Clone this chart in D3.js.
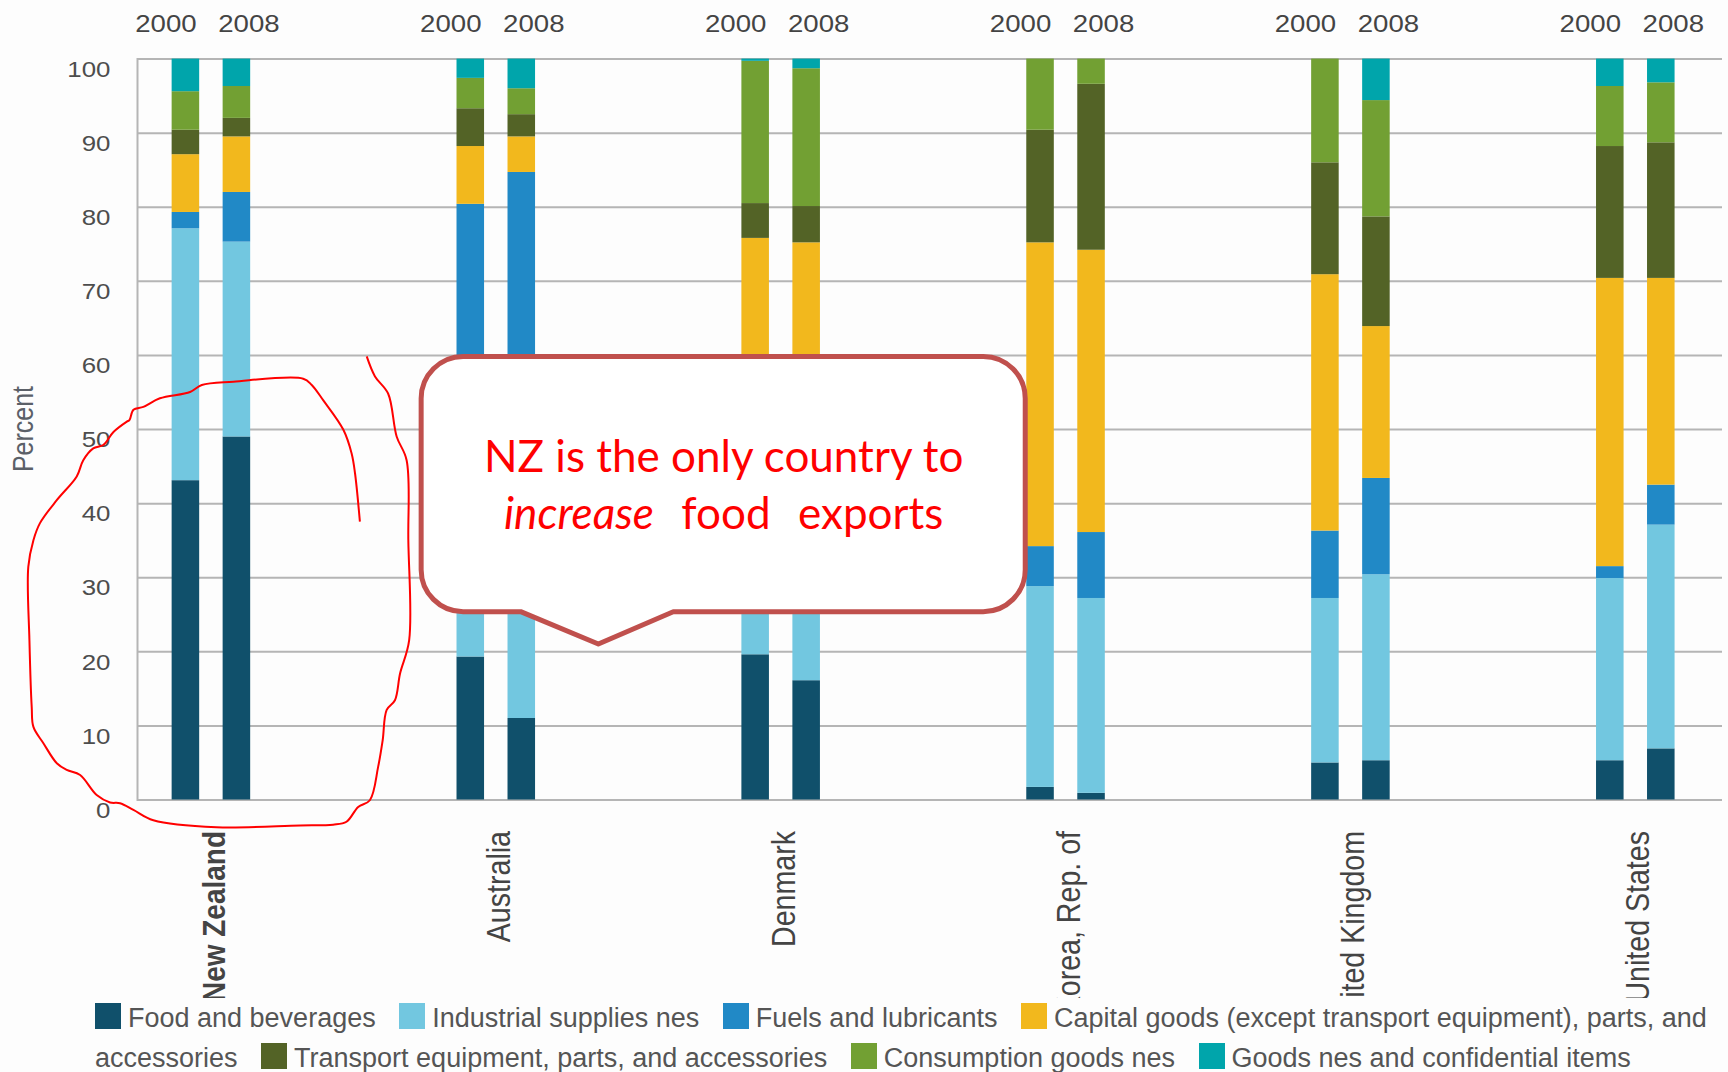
<!DOCTYPE html>
<html>
<head>
<meta charset="utf-8">
<script src="https://cdn.jsdelivr.net/npm/d3@7"></script>
<style>
    body { margin: 0; background: #fdfdfd; width: 1728px; height: 1072px; overflow: hidden; position: relative;
           font-family: "Liberation Sans", Arial, sans-serif; }
    #chart { position: absolute; left: 0; top: 0; }
    #legend { position: absolute; left: 95px; top: 998px; width: 1632px; font-size: 27px; line-height: 40px;
              color: #555; background: #fdfdfd; }
    .sw { display: inline-block; width: 26px; height: 26px; vertical-align: -1.6px; margin-right: 7px; }
    .item + .item .sw { margin-left: 16px; }
</style>
</head>
<body>
<svg id="chart" width="1728" height="1072"></svg>
<div id="legend"></div>
<script>
const countries = ['New Zealand', 'Australia', 'Denmark', 'Korea, Rep. of', 'United Kingdom', 'United States'];
const years = ['2000', '2008'];
const yTicks = [0, 10, 20, 30, 40, 50, 60, 70, 80, 90, 100];

const seriesNames = [
    'Food and beverages',
    'Industrial supplies nes',
    'Fuels and lubricants',
    'Capital goods (except transport equipment), parts, and accessories',
    'Transport equipment, parts, and accessories',
    'Consumption goods nes',
    'Goods nes and confidential items'
];
const seriesColors = ['#10506b', '#72c7e0', '#2189c6', '#f2b81d', '#536326', '#72a033', '#00a5ab'];

// one value per bar: NZ 2000, NZ 2008, AU 2000, AU 2008, DK.., KR.., UK.., US..
const food        = [43.1, 49.0, 19.3, 11.0, 19.6, 16.1,  1.7,  0.9,  5.0,  5.3,  5.3,  6.9];
const industrial  = [34.0, 26.3, 30.7, 34.0, 20.4, 21.9, 27.1, 26.3, 22.2, 25.1, 24.6, 30.2];
const fuels       = [ 2.2,  6.7, 30.4, 39.7,  8.0, 12.0,  5.4,  8.9,  9.1, 13.0,  1.6,  5.4];
const capital     = [ 7.8,  7.5,  7.8,  4.8, 27.8, 25.2, 41.0, 38.1, 34.6, 20.5, 38.9, 27.9];
const transport   = [ 3.3,  2.5,  5.1,  3.0,  4.7,  4.9, 15.2, 22.4, 15.1, 14.8, 17.8, 18.3];
const consumption = [ 5.2,  4.3,  4.1,  3.5, 19.2, 18.6,  9.6,  3.4, 14.0, 15.7,  8.1,  8.1];
const goodsNes    = [ 4.4,  3.7,  2.6,  4.0,  0.3,  1.3,  0.0,  0.0,  0.0,  5.6,  3.7,  3.2];

// hand-drawn loop round New Zealand: [offset from NZ in category steps, percent]
const scribble = [
    [0.547, 59.8], [0.576, 57.1], [0.622, 54.8], [0.652, 49.0], [0.687, 45.8], [0.693, 35.0],
    [0.696, 21.5], [0.664, 17.0], [0.646, 13.4], [0.617, 12.1], [0.603, 8.0], [0.587, 4.4],
    [0.558, -0.1], [0.517, -1.0], [0.476, -3.0], [0.429, -3.4], [0.313, -3.5], [0.020, -3.75],
    [-0.202, -2.8], [-0.272, -1.4], [-0.319, -0.5], [-0.354, -0.4], [-0.401, 0.6], [-0.459, 3.3],
    [-0.506, 4.0], [-0.541, 4.9], [-0.588, 7.6], [-0.623, 9.8], [-0.629, 12.5], [-0.637, 21.5],
    [-0.641, 31.4], [-0.623, 35.0], [-0.600, 37.3], [-0.541, 40.4], [-0.471, 43.6], [-0.448, 45.8],
    [-0.413, 47.4], [-0.378, 47.85], [-0.342, 49.6], [-0.295, 51.0], [-0.286, 51.2], [-0.272, 52.6],
    [-0.237, 53.0], [-0.179, 54.15], [-0.073, 55.0], [-0.032, 55.95], [0.079, 56.4], [0.324, 56.8],
    [0.354, 55.95], [0.394, 53.9], [0.465, 49.9], [0.494, 46.7], [0.506, 44.0], [0.523, 37.5]
];

const seriesValues = [food, industrial, fuels, capital, transport, consumption, goodsNes];
const rows = [];
countries.forEach((c, ci) => years.forEach((yr, yi) => {
    const row = { country: c, year: yr };
    seriesNames.forEach((s, si) => { row[s] = seriesValues[si][ci * 2 + yi]; });
    rows.push(row);
}));

const plotLeft = 137, plotRight = 1722;
const svg = d3.select('#chart');

const x = d3.scalePoint().domain(countries).range([210.9, 1635.3]);
const step = x.step();
const xYear = d3.scaleBand().domain(years).range([-51, 51]).paddingInner(0.46).paddingOuter(0.23);
const xLabel = d3.scaleBand().domain(years).range([-86.5, 79.5]);
const y = d3.scaleLinear().domain([0, 100]).range([799.5, 58.6]);
const color = d3.scaleOrdinal().domain(seriesNames).range(seriesColors);
const ax = (country, frac) => x(country) + frac * step;

// grid + y axis
const yAxis = svg.append('g')
    .attr('transform', `translate(${plotLeft},0)`)
    .call(d3.axisLeft(y).tickValues(yTicks).tickSize(-(plotRight - plotLeft)).tickPadding(0));
yAxis.select('.domain').attr('stroke', '#b5b5b5').attr('stroke-width', 2);
yAxis.selectAll('.tick line').attr('stroke', '#b5b5b5').attr('stroke-width', 2);
yAxis.selectAll('.tick text')
    .attr('x', 0).attr('dy', null)
    .attr('transform', 'translate(-26.5,17.7) scale(1.15,1)')
    .style('font-family', '"Liberation Sans", Arial, sans-serif')
    .style('font-size', '22.5px')
    .attr('fill', '#4d4d4d');

svg.append('text')
    .attr('transform', 'translate(33,429) scale(1.15,1) rotate(-90)')
    .attr('text-anchor', 'middle')
    .style('font-size', '25px')
    .attr('fill', '#5b6068')
    .text('Percent');

// stacked bars
const stacked = d3.stack().keys(seriesNames)(rows);
svg.append('g').selectAll('g')
    .data(stacked)
    .enter()
    .append('g')
    .attr('fill', d => color(d.key))
    .selectAll('rect')
    .data(d => d)
    .enter()
    .append('rect')
    .attr('x', d => x(d.data.country) + xYear(d.data.year))
    .attr('y', d => y(d[1]))
    .attr('width', xYear.bandwidth())
    .attr('height', d => y(d[0]) - y(d[1]));

// year labels on top
const yearLabels = rows.map(r => ({ country: r.country, year: r.year }));
svg.append('g').selectAll('text')
    .data(yearLabels)
    .enter()
    .append('text')
    .attr('transform', d => `translate(${x(d.country) + xLabel(d.year) + xLabel.bandwidth() / 2},32) scale(1.15,1)`)
    .attr('text-anchor', 'middle')
    .style('font-size', '24px')
    .attr('fill', '#444')
    .text(d => d.year);

// country labels, rotated and cut off by the legend band
svg.append('clipPath').attr('id', 'labelClip')
    .append('rect').attr('x', 0).attr('y', 805).attr('width', 1728).attr('height', 196);
svg.append('g')
    .attr('clip-path', 'url(#labelClip)')
    .selectAll('text')
    .data(countries)
    .enter()
    .append('text')
    .attr('transform', d => `translate(${x(d) + 14},831) scale(1.15,1) rotate(-90)`)
    .attr('text-anchor', 'end')
    .style('font-size', d => d === 'New Zealand' ? '28px' : '28.6px')
    .style('font-weight', d => d === 'New Zealand' ? 'bold' : 'normal')
    .attr('fill', '#444')
    .text(d => d);

// callout
const L = ax('Australia', -0.262), R = ax('Korea, Rep. of', -0.1415);
const T = y(59.8), B = y(25.35), r = 42;
const p = d3.path();
p.moveTo(L + r, T);
p.lineTo(R - r, T);
p.arcTo(R, T, R, T + r, r);
p.lineTo(R, B - r);
p.arcTo(R, B, R - r, B, r);
p.lineTo(ax('Australia', 0.623), B);
p.lineTo(ax('Australia', 0.36), y(20.99));
p.lineTo(ax('Australia', 0.0874), B);
p.lineTo(L + r, B);
p.arcTo(L, B, L, B - r, r);
p.lineTo(L, T + r);
p.arcTo(L, T, L + r, T, r);
p.closePath();
svg.append('path')
    .attr('d', p.toString())
    .attr('fill', '#ffffff')
    .attr('stroke', '#c0504d')
    .attr('stroke-width', 5)
    .attr('stroke-linejoin', 'round');

const noteX = ax('Australia', 0.80);
const note = svg.append('g')
    .style('font-family', 'Lato, "Open Sans", sans-serif')
    .style('font-size', '44px')
    .attr('fill', '#ff0000')
    .attr('text-anchor', 'middle');
note.append('text')
    .attr('x', noteX).attr('y', y(44.24))
    .text('NZ is the only country to');
const line2 = note.append('text')
    .attr('x', noteX).attr('y', y(36.47))
    .style('white-space', 'pre')
    .style('word-spacing', '2.5px');
line2.append('tspan').style('font-style', 'italic').text('increase');
line2.append('tspan').text('  food  exports');

// red scribble
svg.append('path')
    .datum(scribble)
    .attr('d', d3.line()
        .x(d => ax('New Zealand', d[0]))
        .y(d => y(d[1]))
        .curve(d3.curveCatmullRom.alpha(0.5)))
    .attr('fill', 'none')
    .attr('stroke', '#ff0000')
    .attr('stroke-width', 2)
    .attr('stroke-linejoin', 'round');

// legend
const legend = d3.select('#legend');
legend.selectAll('.item')
    .data(seriesNames)
    .enter()
    .append('span')
    .attr('class', 'item')
    .html(d => `<span class="sw" style="background:${color(d)}"></span>${d} `);
</script>
</body>
</html>
